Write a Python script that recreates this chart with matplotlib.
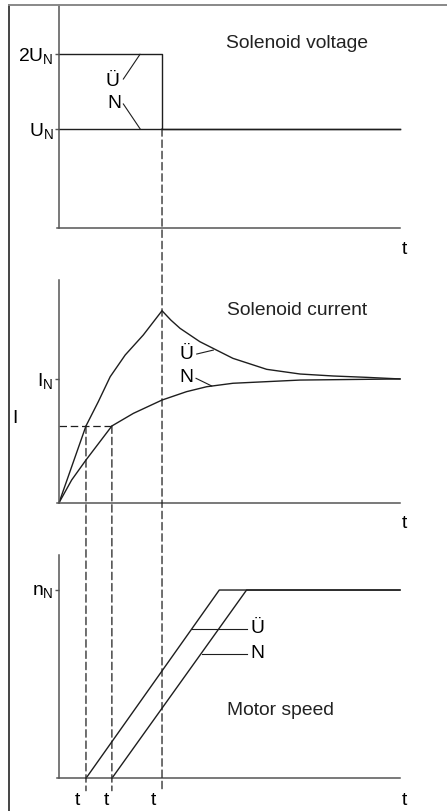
import matplotlib
matplotlib.use('Agg')
import matplotlib.pyplot as plt
from matplotlib.patches import ConnectionPatch
from matplotlib.lines import Line2D

plt.rcParams['font.family'] = ['Liberation Sans', 'DejaVu Sans']
plt.rcParams['mathtext.fontset'] = 'custom'
plt.rcParams['mathtext.rm'] = 'Liberation Sans'

# time axis (arbitrary units, 0..10)
t_end = 10.0
t_u = 0.79      # overexcited current reaches pull-in level
t_n = 1.55      # normal current reaches pull-in level
t_sw = 3.02     # switch back from 2U_N to U_N

# solenoid voltage (drawing levels: U_N = 1, 2U_N drawn at 1.75)
u_n_level = 1.0
u_2n_level = 1.75
volt_u_t = [0, t_sw, t_sw, t_end]
volt_u_v = [u_2n_level, u_2n_level, u_n_level, u_n_level]
volt_n_t = [0, t_end]
volt_n_v = [u_n_level, u_n_level]

# solenoid current (I / I_N)
i_pull = 0.622
cur_u_t = [0, 0.79, 1.15, 1.50, 1.94, 2.47, 3.02, 3.28, 3.55, 4.13, 5.10, 6.09, 7.07, 8.04, 9.02, 10.0]
cur_u_i = [0, 0.622, 0.818, 1.021, 1.197, 1.359, 1.556, 1.48, 1.413, 1.305, 1.170, 1.081, 1.043, 1.027, 1.016, 1.003]
cur_n_t = [0, 0.37, 0.79, 1.55, 2.18, 3.02, 3.74, 4.33, 5.10, 7.07, 10.0]
cur_n_i = [0, 0.184, 0.346, 0.622, 0.724, 0.832, 0.900, 0.940, 0.968, 0.994, 1.003]

# motor speed (n / n_N)
spd_u_t = [t_u, 4.70, t_end]
spd_u_n = [0, 1, 1]
spd_n_t = [t_n, 5.50, t_end]
spd_n_n = [0, 1, 1]

W, H = 447, 811
fig = plt.figure(figsize=(W / 100, H / 100), dpi=100)

axc = '#555555'
lc = '#1e1e1e'
fs = 13.9
xmin = -0.06


def make_axes(top_px, bot_px, ytop):
    ax = fig.add_axes([57 / W, 1 - bot_px / H, 343 / W, (bot_px - top_px) / H])
    ax.set_xlim(xmin, t_end)
    ax.set_ylim(0, ytop)
    for s in ['top', 'right']:
        ax.spines[s].set_visible(False)
    ax.spines['left'].set_position(('data', 0))
    for s in ['left', 'bottom']:
        ax.spines[s].set_color(axc)
        ax.spines[s].set_linewidth(1.1)
    ax.set_xticks([])
    ax.tick_params(axis='y', length=3, width=1.0, color=axc, pad=1, labelsize=fs)
    ax.patch.set_alpha(0)
    return ax


ax1 = make_axes(5, 227.7, 2.25)
ax2 = make_axes(280, 502.7, 1.805)
ax3 = make_axes(555, 778.3, 1.186)

lw = 1.0

# --- voltage panel
ax1.plot(volt_n_t, volt_n_v, color=lc, lw=lw, clip_on=False)
ax1.plot(volt_u_t, volt_u_v, color=lc, lw=lw, clip_on=False)
ax1.set_yticks([u_n_level, u_2n_level])
ax1.set_yticklabels([r'U$_\mathregular{N}$', r'2U$_\mathregular{N}$'])
ax1.text(4.90, 1.812, 'Solenoid voltage', fontsize=fs, va='baseline', color='#222222')
ax1.text(1.58, 1.48, 'Ü', fontsize=fs, ha='center', va='center')
ax1.text(1.62, 1.255, 'N', fontsize=fs, ha='center', va='center')
ax1.plot([1.886, 2.375], [1.502, 1.752], color=lc, lw=0.8)
ax1.plot([1.886, 2.375], [1.25, 1.0], color=lc, lw=0.8)
ax1.text(10.13, -0.266, 't', fontsize=fs, ha='center', va='baseline', clip_on=False)

# --- current panel
ax2.plot(cur_u_t, cur_u_i, color=lc, lw=lw, clip_on=False)
ax2.plot(cur_n_t, cur_n_i, color=lc, lw=lw, clip_on=False)
ax2.plot([0, t_n], [i_pull, i_pull], color=lc, lw=0.9, ls=(0, (6, 3)))
ax2.set_yticks([1.0])
ax2.set_yticklabels([r'I$_\mathregular{N}$'])
ax2.text(4.92, 1.521, 'Solenoid current', fontsize=fs, va='baseline', color='#222222')
ax2.text(-1.305, 0.684, 'I', fontsize=fs, ha='center', va='center', clip_on=False)
ax2.text(3.745, 1.201, 'Ü', fontsize=fs, ha='center', va='center')
ax2.text(3.745, 1.015, 'N', fontsize=fs, ha='center', va='center')
ax2.plot([4.038, 4.525], [1.205, 1.237], color=lc, lw=0.8)
ax2.plot([4.018, 4.478], [1.008, 0.946], color=lc, lw=0.8)
ax2.text(10.13, -0.207, 't', fontsize=fs, ha='center', va='baseline', clip_on=False)

# --- speed panel
ax3.plot(spd_u_t, spd_u_n, color=lc, lw=lw, clip_on=False)
ax3.plot(spd_n_t, spd_n_n, color=lc, lw=lw, clip_on=False)
ax3.set_yticks([1.0])
ax3.set_yticklabels([r'n$_\mathregular{N}$'])
ax3.text(4.92, 0.336, 'Motor speed', fontsize=fs, va='baseline', color='#222222')
ax3.text(5.816, 0.793, 'Ü', fontsize=fs, ha='center', va='center')
ax3.text(5.816, 0.665, 'N', fontsize=fs, ha='center', va='center')
ax3.plot([3.89, 5.50], [0.791, 0.791], color=lc, lw=0.8)
ax3.plot([4.18, 5.50], [0.658, 0.658], color=lc, lw=0.8)
for tx in [0.528, 1.384, 2.78, 10.13]:
    ax3.text(tx, -0.142, 't', fontsize=fs, ha='center', va='baseline', clip_on=False)

# --- dashed guide lines across the panels
dash_bottom = -0.066
for ax_from, x, y in [(ax2, t_u, i_pull), (ax2, t_n, i_pull), (ax1, t_sw, u_n_level)]:
    con = ConnectionPatch(xyA=(x, y), coordsA=ax_from.transData,
                          xyB=(x, dash_bottom), coordsB=ax3.transData,
                          color=lc, lw=0.9, ls=(0, (6, 3)))
    fig.add_artist(con)

# --- outer frame (left and top edges)
fig.add_artist(Line2D([8.5 / W, 8.5 / W], [0, 1 - 4.5 / H], transform=fig.transFigure,
                      color='#444444', lw=1.4))
fig.add_artist(Line2D([8.5 / W, 1], [1 - 4.5 / H, 1 - 4.5 / H], transform=fig.transFigure,
                      color='#888888', lw=1.4))

fig.savefig('out.png', dpi=100)
